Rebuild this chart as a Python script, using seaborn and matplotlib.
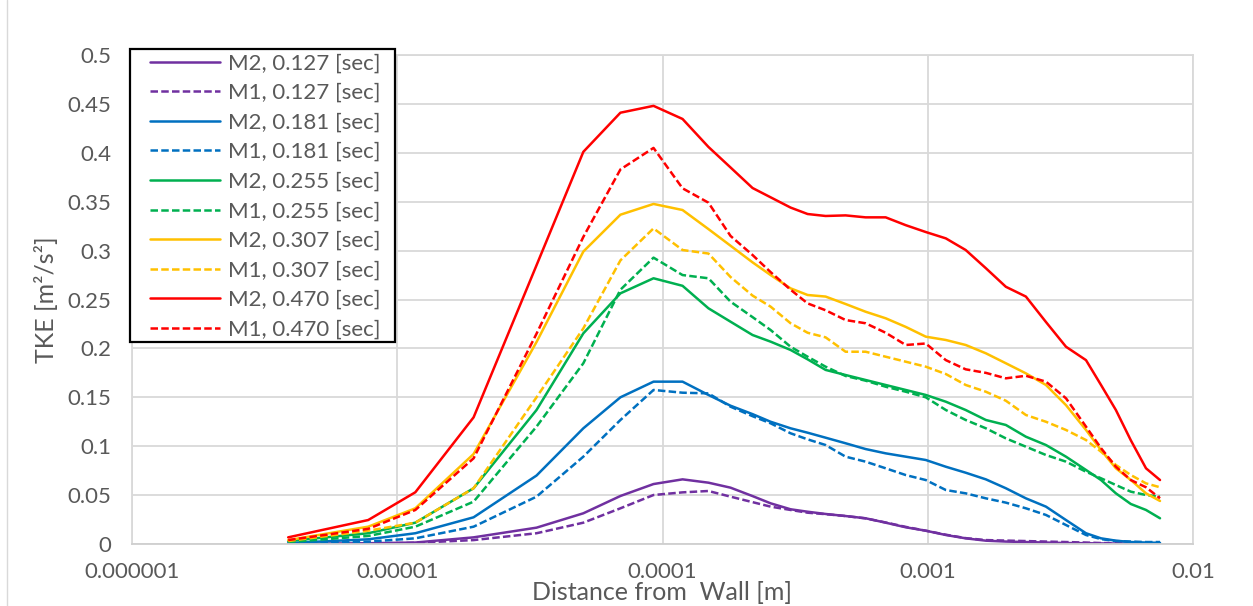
import matplotlib
matplotlib.use("Agg")
import matplotlib.pyplot as plt
import pandas as pd
import seaborn as sns
from matplotlib.ticker import FixedLocator, FixedFormatter, NullLocator
from matplotlib.lines import Line2D
from matplotlib.patches import Rectangle

# ---------------- data ----------------
distance_m = [3.88e-6, 7.77e-6, 1.17e-5, 1.94e-5, 3.35e-5, 5.03e-5, 6.94e-5, 9.25e-5,
              1.19e-4, 1.49e-4, 1.805e-4, 2.185e-4, 2.556e-4, 3.04e-4, 3.525e-4, 4.12e-4,
              4.90e-4, 5.83e-4, 6.94e-4, 8.26e-4, 9.83e-4, 1.17e-3, 1.39e-3, 1.656e-3,
              1.97e-3, 2.344e-3, 2.79e-3, 3.32e-3, 3.95e-3, 4.50e-3, 5.12e-3, 5.83e-3,
              6.65e-3, 7.51e-3]

m2_0127 = [0.0002, 0.0008, 0.0015, 0.0068, 0.0167, 0.0314, 0.0491, 0.0613, 0.0661, 0.0627,
           0.0576, 0.049, 0.0416, 0.0355, 0.033, 0.0307, 0.0286, 0.0263, 0.0218, 0.0171,
           0.0136, 0.0092, 0.0058, 0.0034, 0.0025, 0.002, 0.0015, 0.001, 0.0008, 0.0006,
           0.0005, 0.0004, 0.0003, 0.0003]
m1_0127 = [0.0001, 0.0005, 0.0012, 0.004, 0.011, 0.0218, 0.0365, 0.0501, 0.0528, 0.0542,
           0.0484, 0.0428, 0.0382, 0.0348, 0.032, 0.0305, 0.0286, 0.0262, 0.022, 0.0175,
           0.0136, 0.0095, 0.006, 0.004, 0.0035, 0.003, 0.0025, 0.002, 0.0015, 0.001,
           0.0008, 0.0005, 0.0004, 0.0003]
m2_0181 = [0.001, 0.0048, 0.011, 0.0273, 0.07, 0.1183, 0.15, 0.166, 0.166, 0.1524,
           0.1414, 0.1328, 0.125, 0.1183, 0.1138, 0.1087, 0.103, 0.0971, 0.0927, 0.0893,
           0.0859, 0.079, 0.0729, 0.0661, 0.057, 0.0467, 0.0382, 0.0245, 0.011, 0.0058,
           0.0034, 0.002, 0.0015, 0.0012]
m1_0181 = [0.0005, 0.0024, 0.0058, 0.0177, 0.0484, 0.0893, 0.1268, 0.1575, 0.1547, 0.154,
           0.1404, 0.1307, 0.1234, 0.1132, 0.107, 0.1012, 0.0893, 0.0842, 0.0774, 0.0705,
           0.0654, 0.0552, 0.0518, 0.0467, 0.0423, 0.0365, 0.0297, 0.0194, 0.0092, 0.005,
           0.003, 0.0025, 0.002, 0.002]
m2_0255 = [0.003, 0.011, 0.0218, 0.057, 0.137, 0.2154, 0.2563, 0.2717, 0.264, 0.241,
           0.2273, 0.2137, 0.2069, 0.1984, 0.1888, 0.178, 0.1728, 0.1677, 0.1626, 0.1575,
           0.1524, 0.1455, 0.137, 0.1268, 0.1217, 0.1097, 0.1012, 0.0893, 0.0757, 0.0654,
           0.0518, 0.0409, 0.0348, 0.0263]
m1_0255 = [0.002, 0.0082, 0.0177, 0.0433, 0.12, 0.1848, 0.26, 0.2928, 0.275, 0.2717,
           0.2478, 0.232, 0.2188, 0.2017, 0.1915, 0.1813, 0.1718, 0.167, 0.1608, 0.1557,
           0.15, 0.137, 0.1268, 0.1183, 0.108, 0.0995, 0.091, 0.0842, 0.0739, 0.0672,
           0.0603, 0.0535, 0.0501, 0.0484]
m2_0307 = [0.004, 0.0177, 0.0365, 0.092, 0.2065, 0.299, 0.3367, 0.3477, 0.3415, 0.322,
           0.305, 0.288, 0.275, 0.2614, 0.2546, 0.253, 0.2454, 0.2375, 0.2308, 0.222,
           0.212, 0.2086, 0.2035, 0.195, 0.1848, 0.1745, 0.1626, 0.142, 0.1166, 0.096,
           0.0774, 0.0654, 0.0518, 0.044]
m1_0307 = [0.003, 0.0136, 0.0218, 0.057, 0.150, 0.2205, 0.29, 0.3227, 0.3006, 0.297,
           0.273, 0.254, 0.2427, 0.2257, 0.216, 0.2113, 0.1966, 0.1966, 0.1915, 0.1864,
           0.1813, 0.1738, 0.1626, 0.1557, 0.1465, 0.1319, 0.125, 0.1166, 0.1063, 0.0944,
           0.0808, 0.0705, 0.062, 0.058]
m2_0470 = [0.0068, 0.0245, 0.0529, 0.1295, 0.285, 0.401, 0.441, 0.448, 0.4346, 0.406,
           0.385, 0.364, 0.3545, 0.344, 0.3374, 0.3354, 0.336, 0.334, 0.334, 0.326,
           0.319, 0.3125, 0.3006, 0.282, 0.263, 0.253, 0.227, 0.2017, 0.188, 0.1626,
           0.137, 0.106, 0.0774, 0.0654]
m1_0470 = [0.004, 0.0155, 0.0348, 0.0876, 0.215, 0.314, 0.383, 0.405, 0.3637, 0.349,
           0.315, 0.2955, 0.278, 0.26, 0.246, 0.239, 0.229, 0.2257, 0.216, 0.2035,
           0.205, 0.188, 0.1786, 0.175, 0.1694, 0.172, 0.166, 0.149, 0.12, 0.098,
           0.079, 0.0654, 0.058, 0.0467]

series_labels = ["M2, 0.127 [sec]", "M1, 0.127 [sec]", "M2, 0.181 [sec]", "M1, 0.181 [sec]",
                 "M2, 0.255 [sec]", "M1, 0.255 [sec]", "M2, 0.307 [sec]", "M1, 0.307 [sec]",
                 "M2, 0.470 [sec]", "M1, 0.470 [sec]"]
series_values = [m2_0127, m1_0127, m2_0181, m1_0181, m2_0255, m1_0255,
                 m2_0307, m1_0307, m2_0470, m1_0470]
series_colors = ["#7030A0", "#7030A0", "#0070C0", "#0070C0", "#00B050", "#00B050",
                 "#FFC000", "#FFC000", "#FF0000", "#FF0000"]
series_dashed = [False, True] * 5

x_ticks = [1e-6, 1e-5, 1e-4, 1e-3, 1e-2]
x_tick_labels = ["0.000001", "0.00001", "0.0001", "0.001", "0.01"]
y_ticks = [0, 0.05, 0.1, 0.15, 0.2, 0.25, 0.3, 0.35, 0.4, 0.45, 0.5]
y_tick_labels = ["0", "0.05", "0.1", "0.15", "0.2", "0.25", "0.3", "0.35", "0.4", "0.45", "0.5"]

# ---------------- style ----------------
sns.set_theme(style="white")
plt.rcParams['font.family'] = ['Lato', 'DejaVu Sans']
TXT = "#595959"
GRID = "#d9d9d9"

W, H = 1253, 606
fig = plt.figure(figsize=(W / 100, H / 100), dpi=100)
fig.patch.set_facecolor("white")
L, R, T, B = 132, 1193, 55, 544
ax = fig.add_axes([L / W, 1 - B / H, (R - L) / W, (B - T) / H])
ax.set_facecolor("white")

# outer chart border (left edge visible)
fig.add_artist(Line2D([7 / W, 7 / W], [0, 1], transform=fig.transFigure,
                      color=GRID, lw=1.0))

for label, vals, color, dashed in zip(series_labels, series_values, series_colors, series_dashed):
    df = pd.DataFrame({"distance": distance_m, "tke": vals})
    sns.lineplot(data=df, x="distance", y="tke", ax=ax, color=color, lw=1.8,
                 label=label, estimator=None, sort=False)
    line = ax.lines[-1]
    if dashed:
        line.set_dashes([3.0, 1.3])

ax.set_xscale("log")
ax.set_xlim(1e-6, 1e-2)
ax.set_ylim(0, 0.5)
ax.xaxis.set_major_locator(FixedLocator(x_ticks))
ax.xaxis.set_major_formatter(FixedFormatter(x_tick_labels))
ax.xaxis.set_minor_locator(NullLocator())
ax.yaxis.set_major_locator(FixedLocator(y_ticks))
ax.yaxis.set_major_formatter(FixedFormatter(y_tick_labels))

ax.grid(True, which="major", color=GRID, lw=1.3)
ax.set_axisbelow(True)
for s in ax.spines.values():
    s.set_color(GRID)
    s.set_linewidth(1.3)
ax.spines["bottom"].set_color("#cfcfcf")

ax.tick_params(axis="both", length=0, labelsize=16, labelcolor=TXT)
ax.tick_params(axis="x", pad=13)
ax.tick_params(axis="y", pad=15)

ax.set_xlabel("Distance from  Wall [m]", fontsize=18, color=TXT)
ax.set_ylabel("TKE [m²/s²]", fontsize=18, color=TXT)
ax.xaxis.set_label_coords(0.5, (B - 581) / (B - T))
ax.yaxis.set_label_coords((58 - L) / (R - L), 0.5)

# legend with a hand-placed black frame
frame = Rectangle((130 / W, 1 - 342 / H), 265 / W, 293 / H, transform=fig.transFigure,
                  facecolor="white", edgecolor="black", lw=1.6, zorder=4.9, clip_on=False)
ax.add_artist(frame)
handles, labels = ax.get_legend_handles_labels()
leg = ax.legend(handles, labels, loc="upper left",
                bbox_to_anchor=(150 / W, 1 - 53.5 / H), bbox_transform=fig.transFigure,
                frameon=False, fontsize=16,
                handlelength=3.15, handletextpad=0.35, labelspacing=0.43,
                borderpad=0, borderaxespad=0)
leg.set_zorder(5)
for t in leg.get_texts():
    t.set_color(TXT)

fig.savefig("out.png", dpi=100, facecolor="white")
